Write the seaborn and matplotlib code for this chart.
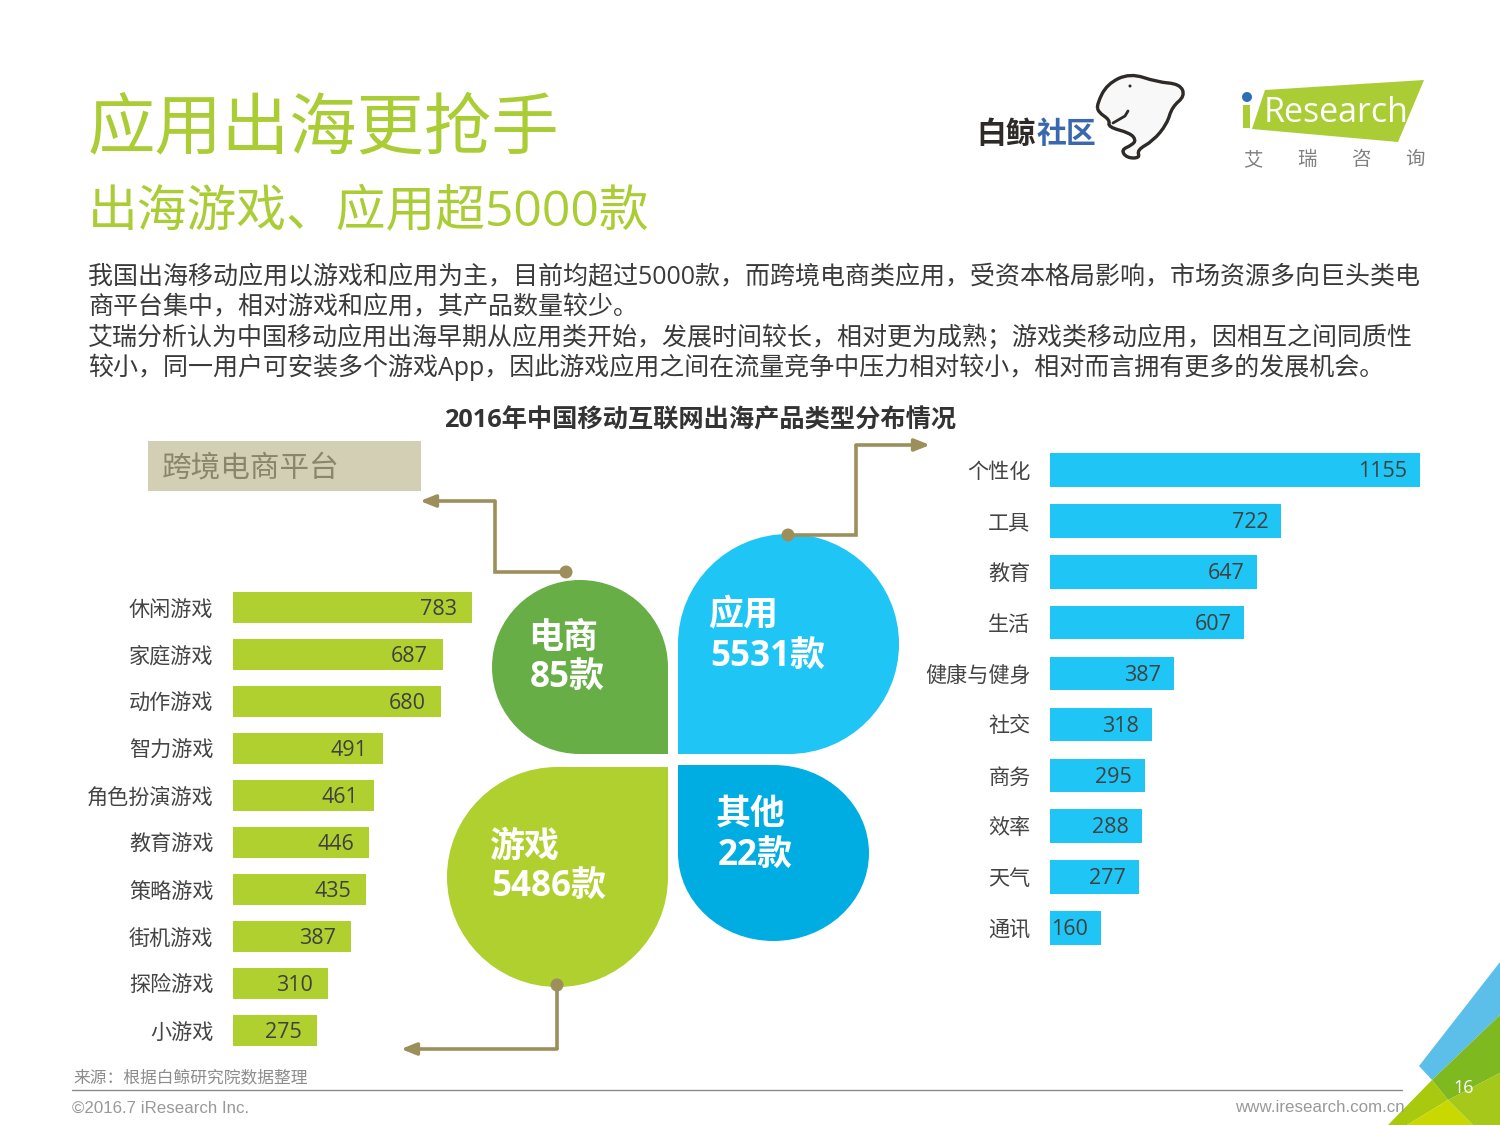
import matplotlib
matplotlib.use('Agg')
import matplotlib.pyplot as plt
import seaborn as sns
from matplotlib.patches import Circle, PathPatch, Polygon, Rectangle
from matplotlib.path import Path

game_types = ['休闲游戏', '家庭游戏', '动作游戏', '智力游戏', '角色扮演游戏', '教育游戏', '策略游戏', '街机游戏', '探险游戏', '小游戏']
game_counts = [783, 687, 680, 491, 461, 446, 435, 387, 310, 275]
app_types = ['个性化', '工具', '教育', '生活', '健康与健身', '社交', '商务', '效率', '天气', '通讯']
app_counts = [1155, 722, 647, 607, 387, 318, 295, 288, 277, 160]

body_lines = [
    '我国出海移动应用以游戏和应用为主，目前均超过5000款，而跨境电商类应用，受资本格局影响，市场资源多向巨头类电',
    '商平台集中，相对游戏和应用，其产品数量较少。',
    '艾瑞分析认为中国移动应用出海早期从应用类开始，发展时间较长，相对更为成熟；游戏类移动应用，因相互之间同质性',
    '较小，同一用户可安装多个游戏App，因此游戏应用之间在流量竞争中压力相对较小，相对而言拥有更多的发展机会。',
]

GREEN = '#B0D02F'
BLUE = '#1FC5F5'
TITLE_GREEN = '#AACD35'
OLIVE = '#9C8F5B'
FONT = ['Open Sans', 'Noto Sans CJK SC', 'DejaVu Sans']

sns.set_theme(style='white')
plt.rcParams['font.family'] = FONT

W, H = 1500, 1125
fig = plt.figure(figsize=(15, 11.25), dpi=100)

# overlay in pixel coordinates for the slide furniture
bg = fig.add_axes([0, 0, 1, 1])
bg.set_xlim(0, W)
bg.set_ylim(H, 0)
bg.axis('off')


def px_axes(left, top, right, bottom):
    return fig.add_axes([left / W, 1 - bottom / H, (right - left) / W, (bottom - top) / H])


def draw_bars(box, names, counts, color, pad, tick_pad):
    ax = px_axes(*box)
    sns.barplot(x=counts, y=names, orient='h', color=color, saturation=1, width=0.66, linewidth=0, ax=ax)
    ax.set_xlim(0, max(counts))
    ax.set_xlabel('')
    ax.set_ylabel('')
    ax.xaxis.set_visible(False)
    ax.tick_params(axis='y', length=0, pad=tick_pad, labelsize=15.2, labelcolor='#444444')
    ax.patch.set_alpha(0)
    sns.despine(ax=ax, left=True, bottom=True)
    # padding is in points here, so 10pt is about 14px
    labels = ax.bar_label(ax.containers[0], padding=-pad, fontsize=15.5, color='#404040')
    for label in labels:
        label.set_ha('right')
        label.xyann = (label.xyann[0], -1.2)
    return ax


def petal(x0, y0, x1, y1, corner, color):
    # circle-ish blob with one square corner
    cx, cy = (x0 + x1) / 2, (y0 + y1) / 2
    rx, ry = (x1 - x0) / 2, (y1 - y0) / 2
    k = 0.5523
    right_bottom = [(x1, cy + k * ry), (cx + k * rx, y1), (cx, y1)]
    bottom_left = [(cx - k * rx, y1), (x0, cy + k * ry), (x0, cy)]
    left_top = [(x0, cy - k * ry), (cx - k * rx, y0), (cx, y0)]
    top_right = [(cx + k * rx, y0), (x1, cy - k * ry), (x1, cy)]
    arcs = {'br': ((cx, y1), bottom_left, left_top, top_right),
            'bl': ((x0, cy), left_top, top_right, right_bottom),
            'tr': ((x1, cy), right_bottom, bottom_left, left_top),
            'tl': ((cx, y0), top_right, right_bottom, bottom_left)}
    corners = {'br': (x1, y1), 'bl': (x0, y1), 'tr': (x1, y0), 'tl': (x0, y0)}
    start, a, b, c = arcs[corner]
    verts = [start] + a + b + c + [corners[corner], start]
    codes = [Path.MOVETO] + [Path.CURVE4] * 9 + [Path.LINETO, Path.LINETO]
    bg.add_patch(PathPatch(Path(verts, codes), facecolor=color, edgecolor='none'))


def connector(points):
    xs, ys = zip(*points[:-1])
    bg.plot(xs, ys, color=OLIVE, lw=2.6, solid_joinstyle='miter', solid_capstyle='butt')
    bg.add_patch(Circle(points[0], 6.5, facecolor=OLIVE, edgecolor='none', zorder=4))
    bg.annotate('', xy=points[-1], xytext=points[-2],
                arrowprops=dict(arrowstyle='-|>,head_length=0.75,head_width=0.3', color=OLIVE, lw=2.6,
                                shrinkA=0, shrinkB=0))


def smooth_closed(points):
    # quadratic chain through the midpoints, closed
    n = len(points)
    mid = lambda a, b: ((a[0] + b[0]) / 2, (a[1] + b[1]) / 2)
    verts = [mid(points[-1], points[0])]
    codes = [Path.MOVETO]
    for i in range(n):
        verts += [points[i], mid(points[i], points[(i + 1) % n])]
        codes += [Path.CURVE3, Path.CURVE3]
    return Path(verts, codes)


# headings
bg.text(88, 131, '应用出海更抢手', fontsize=48.5, color=TITLE_GREEN, va='center', ha='left')
bg.text(88, 214, '出海游戏、应用超5000款', fontsize=35.8, color=TITLE_GREEN, va='center', ha='left')
for y, line in zip([278, 308, 338, 367], body_lines):
    bg.text(88, y, line, fontsize=18, color='#3A3A3A', va='center', ha='left')
bg.text(700, 421, '2016年中国移动互联网出海产品类型分布情况', fontsize=18.2, fontweight='bold',
        color='#333333', va='center', ha='center')

# 白鲸 logo
bg.text(976, 135, '白鲸', fontsize=21.5, fontweight='bold', color='#2E2A28', va='center', ha='left')
bg.text(1037, 135, '社区', fontsize=21.5, fontweight='bold', color='#3A68AE', va='center', ha='left')
whale = [(1097, 104), (1107, 84), (1130, 73), (1157, 82), (1180, 84), (1185, 96), (1172, 107), (1167, 124),
         (1153, 141), (1137, 150), (1140, 158), (1127, 158), (1121, 150), (1132, 145), (1136, 140), (1130, 133),
         (1108, 127), (1110, 120), (1098, 112)]
bg.add_patch(PathPatch(smooth_closed(whale), facecolor='#F8F8F8', edgecolor='#2E2A28', lw=2.4, zorder=3))
bg.plot([1113, 1125, 1128], [123, 116, 111], color='#2E2A28', lw=2, zorder=3)
bg.add_patch(Circle((1130, 86), 1.5, facecolor='#2E2A28', edgecolor='none', zorder=4))

# iResearch logo
bg.add_patch(Polygon([(1265, 90), (1424, 80), (1398, 142), (1252, 129)], facecolor=TITLE_GREEN, edgecolor='none'))
bg.add_patch(Rectangle((1243, 105), 7, 23, facecolor=TITLE_GREEN, edgecolor='none'))
bg.add_patch(Circle((1247, 97), 5, facecolor='#2F6DB5', edgecolor='none'))
bg.text(1264, 113, 'Research', fontsize=24.5, color='white', va='center', ha='left')
for x, ch in zip([1253, 1307, 1361, 1415], ['艾', '瑞', '咨', '询']):
    bg.text(x, 160, ch, fontsize=14, color='#808080', va='center', ha='center')

# 跨境电商 box
bg.add_patch(Rectangle((148, 441), 273, 50, facecolor='#D3CFB4', edgecolor='none'))
bg.text(162, 469, '跨境电商平台', fontsize=21.3, color='#8A866C', va='center', ha='left')

# clover in the middle
petal(492, 580, 668, 754, 'br', '#68AE46')
petal(678, 534, 899, 754, 'bl', BLUE)
petal(447, 767, 668, 987, 'tr', GREEN)
petal(678, 765, 869, 941, 'tl', '#00ADE3')

connector([(566, 572), (495, 572), (495, 501), (420, 501)])
connector([(788, 535), (856, 535), (856, 445), (930, 445)])
connector([(557, 985), (557, 1049), (401, 1049)])

petal_text = [(528, 639, '电商'), (530, 679, '85款'), (708, 616, '应用'), (710, 658, '5531款'),
              (489, 848, '游戏'), (491, 888, '5486款'), (716, 815, '其他'), (718, 857, '22款')]
for x, y, s in petal_text:
    bg.text(x, y, s, fontsize=25.2, fontweight='bold', color='white', va='center', ha='left', zorder=5)

# footer
bg.text(73, 1078, '来源：根据白鲸研究院数据整理', fontsize=12.1, color='#8C8C8C', va='center', ha='left')
bg.plot([72, 1402], [1090, 1090], color='#8A8A8A', lw=1)
bg.text(72, 1108, '©2016.7 iResearch Inc.', fontsize=12.2, color='#999999', va='center', ha='left',
        family=['Liberation Sans'])
bg.text(1405, 1108, 'www.iresearch.com.cn', fontsize=12.15, color='#999999', va='center', ha='right',
        family=['Liberation Sans'])

# corner triangles
bg.add_patch(Polygon([(1500, 962), (1419, 1066), (1432, 1080), (1500, 1015)], facecolor='#5BBFEA', edgecolor='none'))
bg.add_patch(Polygon([(1432, 1080), (1500, 1015), (1500, 1073), (1448, 1100)], facecolor='#7DB91F', edgecolor='none'))
bg.add_patch(Polygon([(1432, 1080), (1448, 1100), (1407, 1125), (1388, 1125)], facecolor='#A9C90F', edgecolor='none'))
bg.add_patch(Polygon([(1448, 1100), (1473, 1125), (1407, 1125)], facecolor='#C8D800', edgecolor='none'))
bg.add_patch(Polygon([(1448, 1100), (1500, 1073), (1500, 1125), (1473, 1125)], facecolor='#A5C81A', edgecolor='none'))
bg.text(1464, 1088, '16', fontsize=13, color='white', va='center', ha='center', zorder=5)

draw_bars((233, 584, 472, 1054), game_types, game_counts, GREEN, 10.8, 14)
draw_bars((1050, 444.5, 1420, 953.5), app_types, app_counts, BLUE, 9.4, 14)

fig.savefig('out.png', dpi=100)
